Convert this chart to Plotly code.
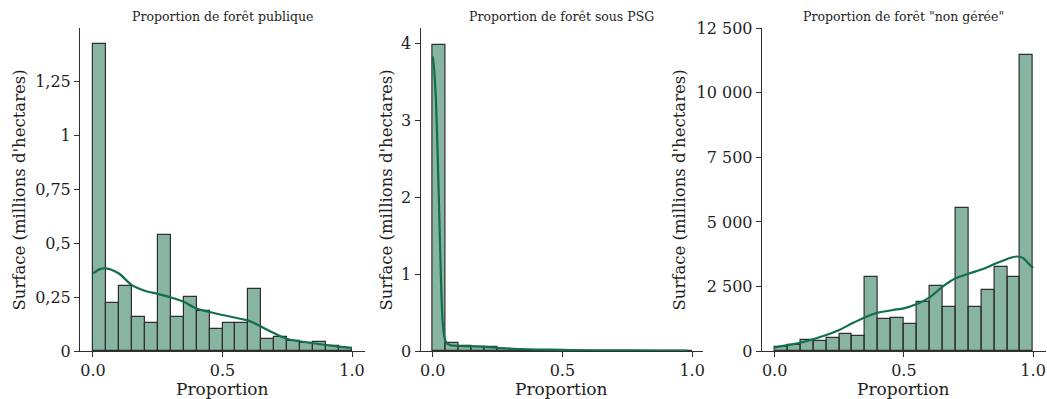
import numpy as np
import plotly.graph_objects as go

# bins: 20 bins of width 0.05 on [0, 1]
bin_edges = np.linspace(0, 1, 21)
bin_centers = (bin_edges[:-1] + bin_edges[1:]) / 2

# surface per bin (millions d'hectares)
publique_vals = [1.428, 0.221, 0.300, 0.159, 0.128, 0.541, 0.156, 0.249, 0.185, 0.100,
                 0.129, 0.129, 0.287, 0.054, 0.066, 0.046, 0.039, 0.042, 0.024, 0.015]
psg_vals = [3.98, 0.100, 0.060, 0.056, 0.050, 0.026, 0.008, 0.006, 0.004, 0.004,
            0.003, 0.003, 0.002, 0.002, 0.002, 0.002, 0.002, 0.002, 0.001, 0.001]
non_geree_vals = [155, 220, 410, 375, 517, 646, 568, 2880, 1227, 1291,
                  1033, 1885, 2531, 1717, 5540, 1717, 2363, 3267, 2880, 11480]

# kde curves
publique_kde_x = [0.0, 0.025, 0.05, 0.1, 0.15, 0.2, 0.25, 0.3, 0.35, 0.4, 0.5, 0.6, 0.65,
                  0.7, 0.75, 0.85, 0.95, 1.0]
publique_kde_y = [0.36, 0.379, 0.384, 0.36, 0.306, 0.28, 0.265, 0.249, 0.229, 0.197, 0.167,
                  0.141, 0.113, 0.082, 0.056, 0.036, 0.02, 0.014]
psg_kde_x = [0.0, 0.006, 0.013, 0.019, 0.026, 0.032, 0.038, 0.045, 0.054, 0.07, 0.105,
             0.155, 0.205, 0.256, 0.333, 0.46, 0.53, 0.7, 0.85, 0.98]
psg_kde_y = [3.83, 3.65, 3.22, 2.57, 1.70, 0.92, 0.40, 0.186, 0.10, 0.075, 0.065, 0.06,
             0.054, 0.039, 0.026, 0.017, 0.013, 0.008, 0.006, 0.005]
non_geree_kde_x = [0.0, 0.1, 0.2, 0.25, 0.3, 0.355, 0.4, 0.458, 0.5, 0.548, 0.6, 0.65, 0.7,
                   0.755, 0.806, 0.858, 0.91, 0.936, 0.961, 0.987, 1.0]
non_geree_kde_y = [142, 323, 620, 813, 1072, 1330, 1485, 1588, 1653, 1808, 2079, 2492, 2815,
                   3009, 3177, 3396, 3600, 3660, 3600, 3340, 3210]

titles = ['Proportion de forêt publique', 'Proportion de forêt sous PSG',
          'Proportion de forêt "non gérée"']
x_title = 'Proportion'
y_title = "Surface (millions d'hectares)"
x_tickvals = [0, 0.5, 1.0]
x_ticktext = ['0.0', '0.5', '1.0']
y_tickvals = [
    [0, 0.25, 0.5, 0.75, 1, 1.25],
    [0, 1, 2, 3, 4],
    [0, 2500, 5000, 7500, 10000, 12500],
]
y_ticktext = [
    ['0', '0,25', '0,5', '0,75', '1', '1,25'],
    ['0', '1', '2', '3', '4'],
    ['0', '2 500', '5 000', '7 500', '10 000', '12 500'],
]

W, H = 1047, 399
FONT = 'DejaVu Serif'
TEXT_COLOR = '#1e1e1e'
BAR_FILL = 'rgba(15,107,67,0.5)'
LINE_COLOR = '#11704a'
AXIS_COLOR = '#2f2f2f'

# layout in pixels (left, right) for each panel, bottom/top shared
x_px = [(80, 365), (420.5, 702.5), (761.7, 1046)]
x_ranges = [[-0.05, 1.05], [-0.047, 1.04], [-0.05, 1.05]]
y_ranges = [[0, 1.5], [0, 4.2], [0, 12510]]
y_dom = [1 - 351 / H, 1 - 28 / H]
ylabel_px = [18.5, 385.5, 678.5]

bars = [publique_vals, psg_vals, non_geree_vals]
kdes = [(publique_kde_x, publique_kde_y), (psg_kde_x, psg_kde_y),
        (non_geree_kde_x, non_geree_kde_y)]

fig = go.Figure()

for i in range(3):
    xa = 'x' if i == 0 else f'x{i + 1}'
    ya = 'y' if i == 0 else f'y{i + 1}'
    fig.add_trace(go.Bar(
        x=bin_centers, y=bars[i], width=0.05,
        marker=dict(color=BAR_FILL, line=dict(color=AXIS_COLOR, width=1.2)),
        xaxis=xa, yaxis=ya, showlegend=False,
    ))
    fig.add_trace(go.Scatter(
        x=kdes[i][0], y=kdes[i][1], mode='lines',
        line=dict(color=LINE_COLOR, width=2.2, shape='spline', smoothing=0.8),
        xaxis=xa, yaxis=ya, showlegend=False,
    ))

    axis_common = dict(
        showline=True, linecolor=AXIS_COLOR, linewidth=1,
        ticks='outside', ticklen=5, tickwidth=1, tickcolor=AXIS_COLOR,
        showgrid=False, zeroline=False, automargin=False,
        tickfont=dict(family=FONT, size=16, color=TEXT_COLOR),
    )
    sfx = '' if i == 0 else str(i + 1)
    fig.layout['xaxis' + sfx] = dict(
        axis_common,
        domain=[x_px[i][0] / W, x_px[i][1] / W],
        range=x_ranges[i], anchor=ya,
        tickvals=x_tickvals, ticktext=x_ticktext,
    )
    fig.layout['yaxis' + sfx] = dict(
        axis_common,
        domain=y_dom, range=y_ranges[i], anchor=xa,
        tickvals=y_tickvals[i], ticktext=y_ticktext[i],
    )
    cx = (x_px[i][0] + x_px[i][1]) / 2 / W
    # panel title
    fig.add_annotation(
        text=titles[i], xref='paper', yref='paper',
        x=cx, y=1 - 16 / H, xanchor='center', yanchor='middle', showarrow=False,
        font=dict(family=FONT, size=12.5, color=TEXT_COLOR),
    )
    # x axis title
    fig.add_annotation(
        text=x_title, xref='paper', yref='paper',
        x=cx, y=1 - 389 / H, xanchor='center', yanchor='middle', showarrow=False,
        font=dict(family=FONT, size=17, color=TEXT_COLOR),
    )
    # y axis title
    fig.add_annotation(
        text=y_title, xref='paper', yref='paper', textangle=-90,
        x=ylabel_px[i] / W, y=1 - 190 / H, xanchor='center', yanchor='middle',
        showarrow=False,
        font=dict(family=FONT, size=16.5, color=TEXT_COLOR),
    )

fig.update_layout(
    width=W, height=H,
    margin=dict(l=0, r=0, t=0, b=0),
    paper_bgcolor='white', plot_bgcolor='white',
    bargap=0,
)

# the page body has a default 8px margin; remove it so the figure fills the window
fig.write_html('out.html', config={'displayModeBar': False},
               post_script="document.body.style.margin='0';"
               "document.body.style.overflow='hidden';")
